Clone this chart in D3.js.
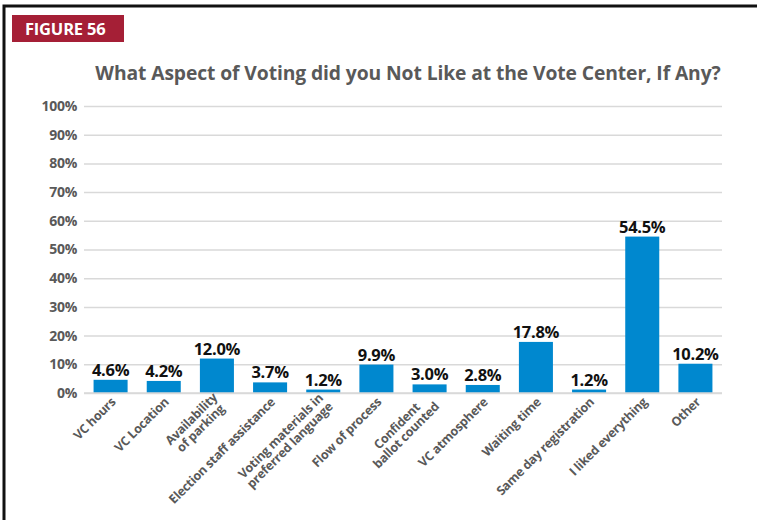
<!DOCTYPE html>
<html>
<head>
<meta charset="utf-8">
<script src="https://cdn.jsdelivr.net/npm/d3@7"></script>
<style>
  body { margin: 0; background: #fff; }
  svg { display: block; }
</style>
</head>
<body>
<div id="wrapper"></div>
<script>
// 1. Data

const categories = [
  "VC hours",
  "VC Location",
  "Availability\nof parking",
  "Election staff assistance",
  "Voting materials in\npreferred language",
  "Flow of process",
  "Confident\nballot counted",
  "VC atmosphere",
  "Waiting time",
  "Same day registration",
  "I liked everything",
  "Other",
];
const values = [4.6, 4.2, 12.0, 3.7, 1.2, 9.9, 3.0, 2.8, 17.8, 1.2, 54.5, 10.2];
const yTicks = [0, 10, 20, 30, 40, 50, 60, 70, 80, 90, 100];

const figureLabel = "FIGURE 56";
const title = "What Aspect of Voting did you Not Like at the Vote Center, If Any?";

const dataset = categories.map((c, i) => ({ category: c, value: values[i] }));

// 2. Dimensions

const width = 757;
const height = 520;
const margin = { top: 106, right: 35, bottom: 127, left: 84 };
const boundedWidth = width - margin.left - margin.right;
const boundedHeight = height - margin.top - margin.bottom;

// 3. Canvas

const svg = d3.select("#wrapper")
  .append("svg")
    .attr("width", width)
    .attr("height", height);

// frame
svg.append("path")
  .attr("d", `M4,${height} V6 H${width}`)
  .attr("fill", "none")
  .attr("stroke", "#111")
  .attr("stroke-width", 3);

// figure tag
svg.append("rect")
  .attr("x", 12)
  .attr("y", 15)
  .attr("width", 112)
  .attr("height", 27)
  .attr("fill", "#a51f36");
svg.append("text")
  .attr("x", 25)
  .attr("y", 34.5)
  .attr("fill", "#fff")
  .style("font-family", "'Open Sans', sans-serif")
  .style("font-weight", 700)
  .style("font-size", "16.5px")
  .style("letter-spacing", "-0.2px")
  .text(figureLabel);

svg.append("text")
  .attr("x", 408)
  .attr("y", 80)
  .attr("text-anchor", "middle")
  .attr("fill", "#595959")
  .style("font-family", "'Open Sans', sans-serif")
  .style("font-weight", 700)
  .style("font-size", "19.3px")
  .style("letter-spacing", "-0.1px")
  .text(title);

const bounds = svg.append("g")
  .attr("transform", `translate(${margin.left},${margin.top})`);

// 4. Scales

const xScale = d3.scaleBand()
  .domain(categories)
  .range([0, boundedWidth])
  .paddingInner(0.36)
  .paddingOuter(0.18);

const yScale = d3.scaleLinear()
  .domain([0, 100])
  .range([boundedHeight, 0]);

// 5. Axes & grid

const yAxis = d3.axisLeft(yScale)
  .tickValues(yTicks)
  .tickSize(-boundedWidth)
  .tickPadding(7)
  .tickFormat(d => d + "%");

const yAxisGroup = bounds.append("g").call(yAxis);
yAxisGroup.select(".domain").remove();
yAxisGroup.selectAll(".tick line")
  .attr("stroke", "#d9d9d9")
  .attr("stroke-width", 1.5);
yAxisGroup.selectAll(".tick text")
  .attr("fill", "#595959")
  .style("font-family", "'Open Sans', sans-serif")
  .style("font-weight", 700)
  .style("font-size", "14px")
  .style("letter-spacing", "-0.3px");

// 6. Bars

bounds.selectAll(".bar")
  .data(dataset)
  .join("rect")
    .attr("class", "bar")
    .attr("x", d => xScale(d.category))
    .attr("width", xScale.bandwidth())
    .attr("y", d => yScale(d.value))
    .attr("height", d => boundedHeight - yScale(d.value))
    .attr("fill", "#0088cf");

bounds.selectAll(".value")
  .data(dataset)
  .join("text")
    .attr("class", "value")
    .attr("x", d => xScale(d.category) + xScale.bandwidth() / 2)
    .attr("y", d => yScale(d.value) - 4)
    .attr("text-anchor", "middle")
    .attr("fill", "#111")
    .style("font-family", "'Open Sans', sans-serif")
    .style("font-weight", 700)
    .style("font-size", "16.5px")
    .style("letter-spacing", "-0.3px")
    .text(d => d.value.toFixed(1) + "%");

// baseline
bounds.append("line")
  .attr("x1", 0)
  .attr("x2", boundedWidth)
  .attr("y1", boundedHeight)
  .attr("y2", boundedHeight)
  .attr("stroke", "#d9d9d9")
  .attr("stroke-width", 1.5);

// 7. Rotated category labels (multi-line centred, like Excel)

const lineHeight = 13;
const labels = bounds.selectAll(".xlabel")
  .data(categories)
  .join("text")
    .attr("class", "xlabel")
    .attr("transform", d =>
      `translate(${xScale(d) + xScale.bandwidth() / 2 + 3}, ${boundedHeight + 7}) rotate(-45)`)
    .attr("fill", "#595959")
    .style("font-family", "'Open Sans', sans-serif")
    .style("font-weight", 700)
    .style("font-size", "12.5px")
    .style("letter-spacing", "-0.25px");

labels.each(function(d) {
  const el = d3.select(this);
  const lines = d.split("\n");
  const spans = lines.map((line, i) => el.append("tspan")
    .attr("dy", 0)
    .text(line));
  const widths = spans.map(s => s.node().getComputedTextLength());
  const maxW = d3.max(widths);
  const offset0 = -((lines.length - 1) * lineHeight) / 2 + 4;
  spans.forEach((s, i) => {
    s.attr("x", -maxW / 2)
      .attr("y", offset0 + i * lineHeight)
      .attr("text-anchor", "middle");
  });
});
</script>
</body>
</html>
